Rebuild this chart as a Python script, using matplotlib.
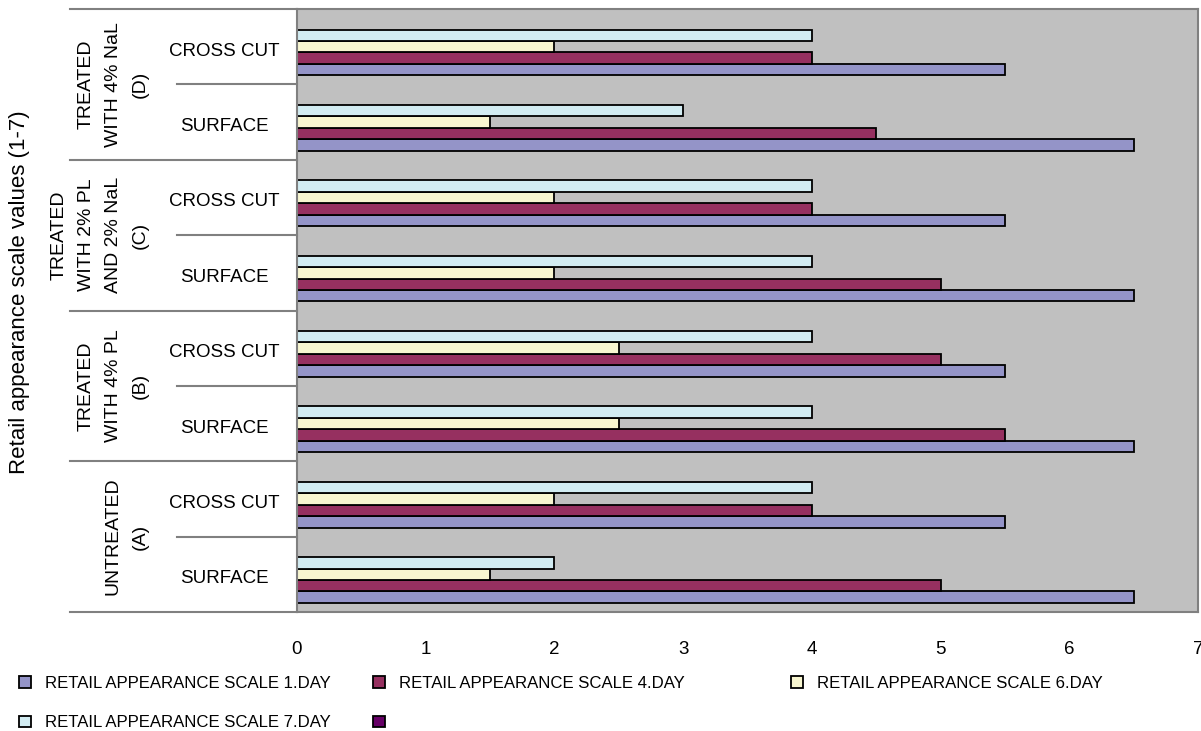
import numpy as np
import matplotlib
matplotlib.use("Agg")
import matplotlib.pyplot as plt
from matplotlib import transforms

plt.rcParams['font.family'] = ['Liberation Sans', 'DejaVu Sans']

# treatment groups, bottom to top
groups = ['UNTREATED\n(A)',
          'TREATED\nWITH 4% PL\n(B)',
          'TREATED\nWITH 2% PL\nAND 2% NaL\n(C)',
          'TREATED\nWITH 4% NaL\n(D)']
cuts = ['SURFACE', 'CROSS CUT']

# values per category, bottom to top: A surface, A cross cut, B surface, ...
day1 = [6.5, 5.5, 6.5, 5.5, 6.5, 5.5, 6.5, 5.5]
day4 = [5, 4, 5.5, 5, 5, 4, 4.5, 4]
day6 = [1.5, 2, 2.5, 2.5, 2, 2, 1.5, 2]
day7 = [2, 4, 4, 4, 4, 4, 3, 4]
extra = [np.nan] * 8  # empty fifth series (legend only)

labels = ['RETAIL APPEARANCE SCALE 1.DAY', 'RETAIL APPEARANCE SCALE 4.DAY',
          'RETAIL APPEARANCE SCALE 6.DAY', 'RETAIL APPEARANCE SCALE 7.DAY', '']
colors = ['#9494C8', '#963060', '#F8F6D0', '#D2ECF2', '#660066']
series = [day1, day4, day6, day7, extra]

fig = plt.figure(figsize=(12.01, 7.31), dpi=100)
ax = fig.add_axes([297 / 1201, 1 - 612 / 731, 901 / 1201, 603 / 731])
ax.set_facecolor('#C0C0C0')

y = np.arange(len(day1))
h = 0.152
bars = []
for i, (vals, col, lab) in enumerate(zip(series, colors, labels)):
    b = ax.barh(y + (i - 2) * h, vals, height=h, color=col,
                edgecolor='black', linewidth=1.3, label=lab)
    bars.append(b)

ax.set_xlim(0, 7)
ax.set_ylim(-0.5, 7.5)
ax.set_xticks(range(8))
ax.set_yticks([])
ax.tick_params(axis='x', length=0, pad=21, labelsize=13.5)
for s in ax.spines.values():
    s.set_color('#808080')
    s.set_linewidth(1.5)

# hierarchical category axis
tr = transforms.blended_transform_factory(ax.transAxes, ax.transData)
for yy in [-0.5, 1.5, 3.5, 5.5, 7.5]:
    ax.plot([-0.252, 0], [yy, yy], transform=tr, color='#808080', lw=1.5, clip_on=False)
for yy in [0.5, 2.5, 4.5, 6.5]:
    ax.plot([-0.133, 0], [yy, yy], transform=tr, color='#808080', lw=1.5, clip_on=False)
for i in range(len(day1)):
    ax.text(-0.081, i - 0.06, cuts[i % 2], transform=tr, ha='center', va='center', fontsize=13.5)
for g, name in enumerate(groups):
    ax.text(-0.165, 2 * g + 0.5, name, transform=tr, rotation=90, ha='right', va='center',
            multialignment='center', fontsize=14, linespacing=1.75)

fig.text(20 / 1201, 1 - 292 / 731, 'Retail appearance scale values (1-7)', rotation=90,
         ha='center', va='center', fontsize=16)

# legend: two rows, Excel style
leg_kw = dict(frameon=False, fontsize=12.1, handlelength=0.7, handleheight=0.7,
              handletextpad=0.85, labelspacing=1.45, borderpad=0, borderaxespad=0, loc='upper left')
leg1 = fig.legend([bars[0], bars[3], bars[1], bars[4]],
                  [labels[0], labels[3], labels[1], labels[4]],
                  ncol=2, columnspacing=2.5, bbox_to_anchor=(19 / 1201, 1 - 676 / 731), **leg_kw)
leg2 = fig.legend([bars[2]], [labels[2]], bbox_to_anchor=(791 / 1201, 1 - 676 / 731), **leg_kw)

fig.savefig('out.png', dpi=100)
